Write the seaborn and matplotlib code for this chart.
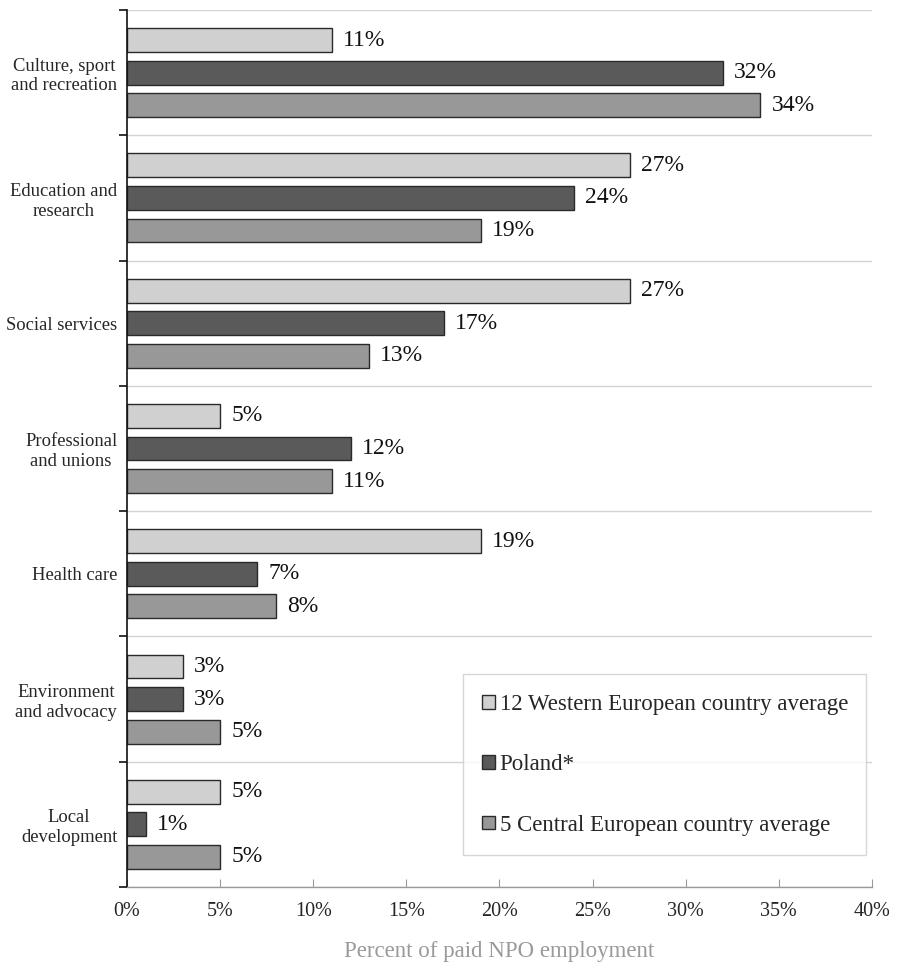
import matplotlib
matplotlib.use("Agg")
import matplotlib.pyplot as plt
import seaborn as sns
import pandas as pd

categories = [
    "Culture, sport\nand recreation",
    "Education and\nresearch",
    "Social services",
    "Professional\nand unions",
    "Health care",
    "Environment\nand advocacy",
    "Local\ndevelopment",
]
series = [
    "12 Western European country average",
    "Poland*",
    "5 Central European country average",
]
western = [11, 27, 27, 5, 19, 3, 5]
poland = [32, 24, 17, 12, 7, 3, 1]
central = [34, 19, 13, 11, 8, 5, 5]
colors = ["#d0d0d0", "#5a5a5a", "#989898"]
xticks = [0, 5, 10, 15, 20, 25, 30, 35, 40]

rows = []
for name, vals in zip(series, [western, poland, central]):
    for cat, v in zip(categories, vals):
        rows.append({"Sector": cat, "Share": v, "Group": name})
df = pd.DataFrame(rows)

sns.set_style("white")
plt.rcParams["font.family"] = ["Liberation Serif", "DejaVu Serif"]

fig = plt.figure(figsize=(8.97, 9.67), dpi=100)
ax = fig.add_axes([0.1416, 0.0827, 0.8305, 0.907])

sns.barplot(data=df, y="Sector", x="Share", hue="Group", order=categories,
            hue_order=series, palette=colors, orient="h", width=0.78,
            edgecolor="#2a2a2a", linewidth=1.0, ax=ax, legend=True)

# thinner bars with white gaps between them
bar_h = 0.19
for cont in ax.containers:
    for p in cont.patches:
        cy = p.get_y() + p.get_height() / 2
        p.set_y(cy - bar_h / 2)
        p.set_height(bar_h)

# value labels at bar ends
for cont in ax.containers:
    for p in cont.patches:
        w = p.get_width()
        ax.text(w + 0.6, p.get_y() + p.get_height() / 2, f"{w:.0f}%",
                va="center", ha="left", fontsize=17, color="#111111")

n = len(categories)
ax.set_xlim(0, 40)
ax.set_ylim(n - 0.5, -0.5)
ax.set_xticks(xticks)
ax.set_xticklabels([f"{t}%" for t in xticks], fontsize=14.5)
ax.tick_params(axis="x", direction="in", length=6, width=0.8, color="#9a9a9a",
               pad=11, bottom=True)

# category boundaries as major ticks / gridlines, names as minor ticks
ax.set_yticks([i - 0.5 for i in range(n + 1)])
ax.set_yticklabels([])
ax.set_yticks(range(n), minor=True)
ax.set_yticklabels(categories, minor=True, fontsize=13.4)
for lab in ax.get_yticklabels(minor=True):
    lab.set_multialignment("center")
ax.tick_params(axis="y", which="major", direction="out", length=6, width=1.2,
               color="#111111", left=True)
ax.tick_params(axis="y", which="minor", length=0, pad=7)
ax.grid(axis="y", which="major", color="#d4d4d4", linewidth=1.0)
ax.grid(axis="x", visible=False)
ax.set_axisbelow(True)

for side in ["top", "right"]:
    ax.spines[side].set_visible(False)
ax.spines["left"].set_color("#111111")
ax.spines["left"].set_linewidth(1.2)
ax.spines["bottom"].set_color("#9a9a9a")
ax.spines["bottom"].set_linewidth(1.0)

ax.set_ylabel("")
ax.set_xlabel("Percent of paid NPO employment", fontsize=16.5, color="#9a9a9a",
              labelpad=14)

leg = ax.legend(loc="lower left", bbox_to_anchor=(0.451, 0.0365, 0.541, 0.21),
                mode="expand", fontsize=16.5, frameon=True, fancybox=False,
                edgecolor="#cccccc", handlelength=0.55, handleheight=0.55,
                handletextpad=0.2, labelspacing=1.72, borderpad=0.85,
                borderaxespad=0)
leg.get_frame().set_linewidth(1.0)
for h in leg.legend_handles:
    h.set_edgecolor("#2a2a2a")
    h.set_linewidth(1.0)

fig.savefig("out.png", dpi=100, facecolor="white")
